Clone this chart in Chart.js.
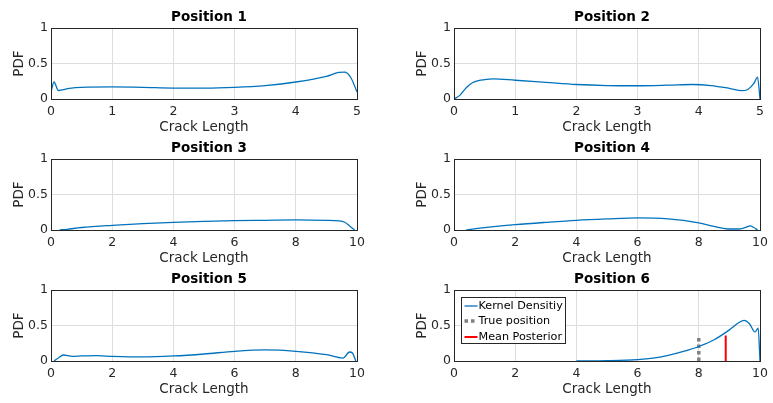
<!DOCTYPE html>
<html>
<head>
<meta charset="utf-8">
<script src="https://cdn.jsdelivr.net/npm/chart.js@4.4.0/dist/chart.umd.min.js"></script>
<style>
    html, body { margin: 0; padding: 0; background: #fff; overflow: hidden; }
    body { position: relative; width: 773px; height: 403px; }
    canvas { position: absolute; }
</style>
</head>
<body>
<canvas id="c1" width="418" height="140" style="left:0px;top:0px"></canvas>
<canvas id="c2" width="418" height="140" style="left:403px;top:0px"></canvas>
<canvas id="c3" width="418" height="140" style="left:0px;top:131px"></canvas>
<canvas id="c4" width="418" height="140" style="left:403px;top:131px"></canvas>
<canvas id="c5" width="418" height="140" style="left:0px;top:262px"></canvas>
<canvas id="c6" width="418" height="140" style="left:403px;top:262px"></canvas>
<script>
// tick values
var yTicks = [0, 0.5, 1];
var xTicks5 = [0, 1, 2, 3, 4, 5];
var xTicks10 = [0, 2, 4, 6, 8, 10];

// kernel density curves
var pos1X = [0, 0.05, 0.12, 0.3, 0.5, 1, 1.5, 2, 2.5, 3, 3.5, 4, 4.5, 4.7, 4.8, 4.9, 5];
var pos1Y = [0.10, 0.24, 0.12, 0.15, 0.165, 0.17, 0.165, 0.155, 0.155, 0.165, 0.19, 0.24, 0.32, 0.375, 0.38, 0.30, 0.10];

var pos2X = [0, 0.1, 0.2, 0.3, 0.5, 0.65, 1, 1.5, 2, 2.5, 3, 3.5, 3.9, 4.2, 4.5, 4.7, 4.8, 4.9, 4.96, 5];
var pos2Y = [0, 0.055, 0.16, 0.23, 0.275, 0.285, 0.265, 0.235, 0.205, 0.19, 0.187, 0.195, 0.205, 0.19, 0.15, 0.117, 0.135, 0.22, 0.31, 0];

var pos3X = [0.28, 0.52, 1, 2, 3, 4, 5, 6, 7, 8, 9, 9.4, 9.6, 9.75, 9.92];
var pos3Y = [0, 0.01, 0.035, 0.066, 0.09, 0.108, 0.123, 0.132, 0.137, 0.142, 0.137, 0.13, 0.11, 0.06, 0];

var pos4X = [0.4, 1, 2, 3, 4, 5, 6, 7, 8, 8.5, 9, 9.3, 9.55, 9.67, 9.8, 9.92];
var pos4Y = [0, 0.033, 0.075, 0.108, 0.137, 0.156, 0.17, 0.156, 0.1, 0.052, 0.014, 0.014, 0.04, 0.057, 0.035, 0];

var pos5X = [0.1, 0.25, 0.4, 0.7, 1, 1.5, 2, 3, 4, 5, 6, 7, 8, 9, 9.54, 9.76, 9.85, 9.96];
var pos5Y = [0, 0.047, 0.085, 0.066, 0.071, 0.075, 0.066, 0.057, 0.071, 0.099, 0.137, 0.156, 0.137, 0.09, 0.042, 0.127, 0.113, 0];

var pos6X = [4, 5, 6, 6.5, 7, 7.5, 8, 8.5, 9, 9.3, 9.48, 9.65, 9.84, 9.94, 10];
var pos6Y = [0, 0.005, 0.02, 0.04, 0.08, 0.135, 0.205, 0.3, 0.44, 0.54, 0.575, 0.53, 0.41, 0.465, 0];

// markers in position 6
var truePosX = [8, 8];
var truePosY = [0, 0.36];
var meanPostX = [8.88, 8.88];
var meanPostY = [0, 0.36];

var AXIS_COLOR = '#262626';
var GRID_COLOR = '#dedede';
var BLUE = '#0072BD';

Chart.defaults.font.family = '"DejaVu Sans", sans-serif';

function toPoints(xs, ys) {
    var pts = [];
    for (var i = 0; i < xs.length; i++) {
        pts.push({x: xs[i], y: ys[i]});
    }
    return pts;
}

function useTicks(values) {
    return function(scale) {
        scale.ticks = values.map(function(v) { return {value: v}; });
    };
}

// plain number labels: 0, 0.5, 1 (not 1.0)
function plainLabel(value) {
    return String(value);
}

// matlab style closed box around the axes, on the same pixels as the edge grid lines
var axesBox = {
    id: 'axesBox',
    afterDraw: function(chart) {
        var a = chart.chartArea;
        var ctx = chart.ctx;
        ctx.save();
        ctx.strokeStyle = AXIS_COLOR;
        ctx.lineWidth = 1;
        var l = Math.round(a.left) + 0.5, t = Math.round(a.top) + 0.5;
        var r = Math.round(a.right) + 0.5, b = Math.round(a.bottom) + 0.5;
        ctx.strokeRect(l, t, r - l, b - t);
        ctx.restore();
    }
};

// legend box in the upper left corner of the axes
var innerLegend = {
    id: 'innerLegend',
    afterDraw: function(chart) {
        var a = chart.chartArea;
        var ctx = chart.ctx;
        var sets = chart.data.datasets;
        ctx.save();
        ctx.font = '11.2px "DejaVu Sans"';
        var maxW = 0;
        sets.forEach(function(ds) { maxW = Math.max(maxW, ctx.measureText(ds.label).width); });
        var x = Math.round(a.left) + 7.5, y = Math.round(a.top) + 7.5;
        var w = Math.round(17 + maxW + 3), h = 46;
        ctx.fillStyle = '#fff';
        ctx.fillRect(x, y, w, h);
        ctx.strokeStyle = AXIS_COLOR;
        ctx.lineWidth = 1;
        ctx.strokeRect(x, y, w, h);
        sets.forEach(function(ds, i) {
            var cy = Math.round(y + 8 + i * 15.5);
            ctx.beginPath();
            ctx.strokeStyle = ds.borderColor;
            ctx.lineWidth = ds.borderWidth;
            ctx.setLineDash(ds.borderDash || []);
            ctx.moveTo(x + 3, cy);
            ctx.lineTo(x + 16, cy);
            ctx.stroke();
            ctx.setLineDash([]);
            ctx.fillStyle = '#000';
            ctx.textBaseline = 'middle';
            ctx.fillText(ds.label, x + 17, cy);
        });
        ctx.restore();
    }
};

function makeChart(id, title, xMax, xTicks, datasets, plugins) {
    return new Chart(document.getElementById(id), {
        type: 'line',
        data: {datasets: datasets},
        plugins: [axesBox].concat(plugins || []),
        options: {
            responsive: false,
            animation: false,
            devicePixelRatio: 1,
            layout: {padding: 0},
            plugins: {
                legend: {display: false},
                tooltip: {enabled: false},
                title: {
                    display: true,
                    text: title,
                    color: '#000',
                    font: {size: 13.5, weight: 'bold'},
                    padding: {top: 9, bottom: 3}
                }
            },
            elements: {point: {radius: 0}},
            scales: {
                x: {
                    type: 'linear',
                    min: 0,
                    max: xMax,
                    afterBuildTicks: useTicks(xTicks),
                    afterFit: function(s) { s.height = 41; },
                    grid: {color: GRID_COLOR, drawTicks: false},
                    border: {display: false},
                    ticks: {padding: 5, color: AXIS_COLOR, font: {size: 12.5}, maxRotation: 0, autoSkip: false, callback: plainLabel},
                    title: {display: true, text: 'Crack Length', color: AXIS_COLOR, font: {size: 13.5}, padding: {top: 0, bottom: 4}}
                },
                y: {
                    min: 0,
                    max: 1,
                    afterBuildTicks: useTicks(yTicks),
                    afterFit: function(s) { s.width = 51; },
                    grid: {color: GRID_COLOR, drawTicks: false},
                    border: {display: false},
                    ticks: {padding: 3, color: AXIS_COLOR, font: {size: 12.5}, callback: plainLabel},
                    title: {display: true, text: 'PDF', color: AXIS_COLOR, font: {size: 13.5}, padding: {top: 11, bottom: 0}}
                },
                // empty spacer so the title centres where matlab put it
                yr: {
                    position: 'right',
                    display: true,
                    afterFit: function(s) { s.width = 61; },
                    grid: {display: false},
                    ticks: {display: false},
                    border: {display: false}
                }
            }
        }
    });
}

function kernel(xs, ys, label) {
    return {
        label: label || 'Kernel Density',
        data: toPoints(xs, ys),
        borderColor: BLUE,
        borderWidth: 1.3,
        cubicInterpolationMode: 'monotone',
        fill: false,
        order: 1
    };
}

makeChart('c1', 'Position 1', 5, xTicks5, [kernel(pos1X, pos1Y)]);
makeChart('c2', 'Position 2', 5, xTicks5, [kernel(pos2X, pos2Y)]);
makeChart('c3', 'Position 3', 10, xTicks10, [kernel(pos3X, pos3Y)]);
makeChart('c4', 'Position 4', 10, xTicks10, [kernel(pos4X, pos4Y)]);
makeChart('c5', 'Position 5', 10, xTicks10, [kernel(pos5X, pos5Y)]);
makeChart('c6', 'Position 6', 10, xTicks10, [
    kernel(pos6X, pos6Y, 'Kernel Densitiy'),
    {
        label: 'True position',
        data: toPoints(truePosX, truePosY),
        borderColor: '#808080',
        borderWidth: 3.5,
        borderDash: [3.5, 3],
        fill: false,
        order: 2
    },
    {
        label: 'Mean Posterior',
        data: toPoints(meanPostX, meanPostY),
        borderColor: '#ff0000',
        borderWidth: 2,
        fill: false,
        order: 0
    }
], [innerLegend]);
</script>
</body>
</html>
